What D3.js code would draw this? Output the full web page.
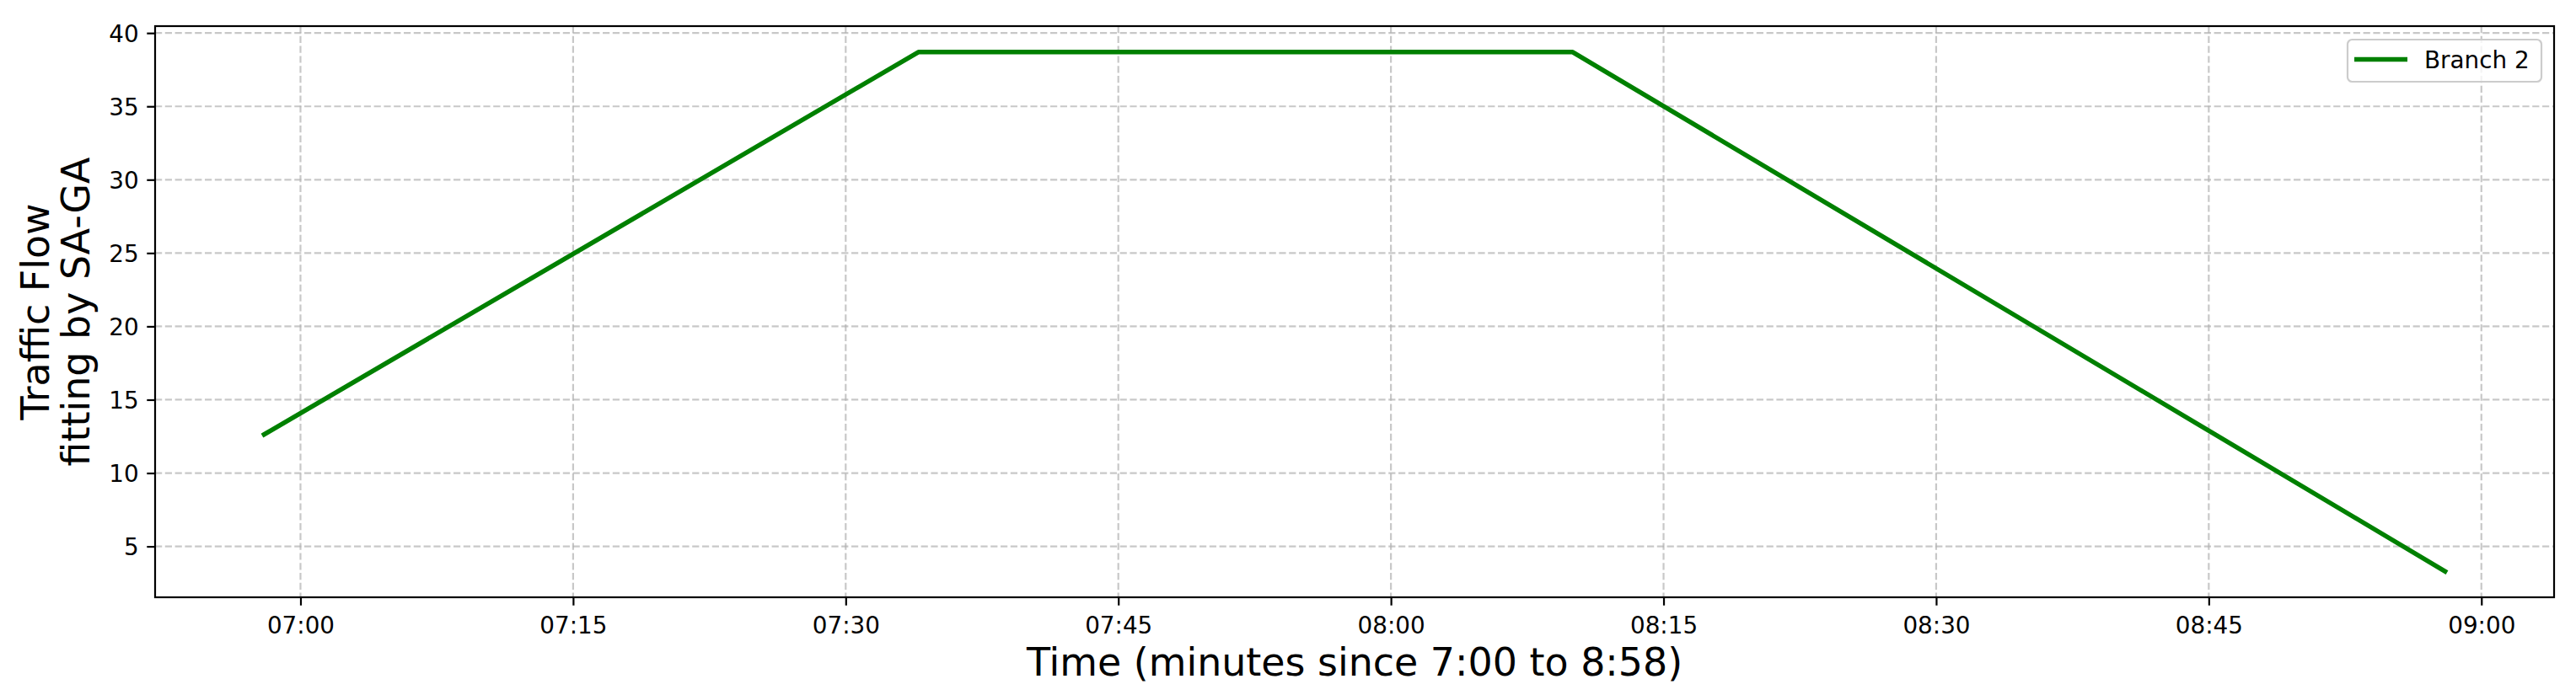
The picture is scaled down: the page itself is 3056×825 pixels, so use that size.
<!DOCTYPE html>
<html>
<head>
<meta charset="utf-8">
<script src="https://cdn.jsdelivr.net/npm/d3@7"></script>
<style>
  html, body { margin: 0; padding: 0; background: #fff; }
  svg { display: block; }
  text { font-family: "DejaVu Sans", sans-serif; fill: #000; }
</style>
</head>
<body>
<div id="chart"></div>
<script>
// ---- data ----
const times = ["06:58", "07:34", "08:10", "08:58"];
const values = [12.63, 38.7, 38.7, 3.3];
const xTickLabels = ["07:00", "07:15", "07:30", "07:45", "08:00", "08:15", "08:30", "08:45", "09:00"];
const yTickValues = [5, 10, 15, 20, 25, 30, 35, 40];
const seriesName = "Branch 2";
const xTitle = "Time (minutes since 7:00 to 8:58)";
const yTitleLines = ["Traffic Flow", "fitting by SA-GA"];

// ---- layout ----
const W = 3056, H = 825;
const M = { left: 184, right: 3030, top: 31, bottom: 709 };

const parse = d3.utcParse("%H:%M");
const data = times.map((t, i) => ({ t: parse(t), v: values[i] }));

const svg = d3.select("#chart").append("svg")
  .attr("width", W).attr("height", H);
svg.append("rect").attr("width", W).attr("height", H).attr("fill", "#fff");

// matplotlib-like 5% margins
const tExt = d3.extent(data, d => +d.t);
const tPad = (tExt[1] - tExt[0]) * 0.05;
const vExt = d3.extent(data, d => d.v);
const vPad = (vExt[1] - vExt[0]) * 0.05;

const x = d3.scaleUtc()
  .domain([new Date(tExt[0] - tPad), new Date(tExt[1] + tPad)])
  .range([M.left, M.right]);
const y = d3.scaleLinear()
  .domain([vExt[0] - vPad, vExt[1] + vPad])
  .range([M.bottom, M.top]);

const xTicks = xTickLabels.map(parse);

// grid
const grid = svg.append("g").attr("stroke", "#b0b0b0").attr("stroke-opacity", 0.7)
  .attr("stroke-width", 2.2).attr("stroke-dasharray", "8.2,3.6").attr("fill", "none");
grid.selectAll("line.gx").data(xTicks).join("line")
  .attr("x1", d => x(d)).attr("x2", d => x(d))
  .attr("y1", M.top).attr("y2", M.bottom);
grid.selectAll("line.gy").data(yTickValues).join("line")
  .attr("x1", M.left).attr("x2", M.right)
  .attr("y1", d => y(d)).attr("y2", d => y(d));

// line
const line = d3.line().x(d => x(d.t)).y(d => y(d.v));
svg.append("path").datum(data)
  .attr("d", line)
  .attr("fill", "none")
  .attr("stroke", "#008000")
  .attr("stroke-width", 5.5)
  .attr("stroke-linejoin", "round")
  .attr("stroke-linecap", "square");

// axes
const xAxis = d3.axisBottom(x).tickValues(xTicks)
  .tickFormat(d3.utcFormat("%H:%M")).tickSizeInner(9.7).tickSizeOuter(0).tickPadding(9);
const gx = svg.append("g").attr("transform", `translate(0,${M.bottom})`).call(xAxis);
const yAxis = d3.axisLeft(y).tickValues(yTickValues)
  .tickFormat(d3.format("d")).tickSizeInner(9.7).tickSizeOuter(0).tickPadding(9.7);
const gy = svg.append("g").attr("transform", `translate(${M.left},0)`).call(yAxis);

[gx, gy].forEach(g => {
  g.select(".domain").remove();
  g.selectAll(".tick line").attr("stroke", "#000").attr("stroke-width", 2.2);
  g.selectAll(".tick text").attr("font-size", 27.8).attr("font-family", "DejaVu Sans").attr("fill", "#000");
});
gx.selectAll(".tick text").attr("dy", null).attr("y", 0).attr("transform", "translate(0,42.7)");
gy.selectAll(".tick text").attr("dy", "0.36em");

// frame
svg.append("rect")
  .attr("x", M.left).attr("y", M.top)
  .attr("width", M.right - M.left).attr("height", M.bottom - M.top)
  .attr("fill", "none").attr("stroke", "#000").attr("stroke-width", 2.2);

// axis titles
svg.append("text")
  .attr("x", (M.left + M.right) / 2).attr("y", 802)
  .attr("text-anchor", "middle").attr("font-size", 45.9)
  .text(xTitle);

const yc = (M.top + M.bottom) / 2;
const baselinesX = [57.5, 106];
yTitleLines.forEach((s, i) => {
  svg.append("text")
    .attr("transform", `translate(${baselinesX[i]},${yc}) rotate(-90)`)
    .attr("text-anchor", "middle").attr("font-size", 45.9)
    .text(s);
});

// legend
const lg = svg.append("g");
lg.append("rect")
  .attr("x", 2785).attr("y", 47).attr("width", 230).attr("height", 50)
  .attr("rx", 5.5).attr("ry", 5.5)
  .attr("fill", "#fff").attr("fill-opacity", 0.8)
  .attr("stroke", "#cccccc").attr("stroke-width", 2.2);
lg.append("line")
  .attr("x1", 2793).attr("x2", 2856).attr("y1", 70.5).attr("y2", 70.5)
  .attr("stroke", "#008000").attr("stroke-width", 5.5);
lg.append("text")
  .attr("x", 2876).attr("y", 80.5).attr("font-size", 27.8)
  .text(seriesName);
</script>
</body>
</html>
